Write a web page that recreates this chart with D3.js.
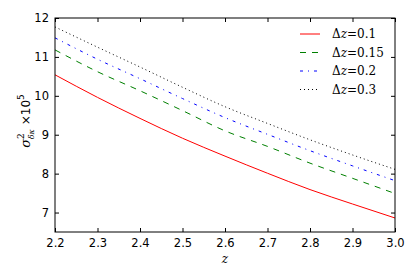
<!DOCTYPE html>
<html>
<head>
<meta charset="utf-8">
<script src="https://cdn.jsdelivr.net/npm/d3@7"></script>
<style>
  body { margin: 0; background: #fff; }
  svg text { fill: #000; }
</style>
</head>
<body>
<div id="chart"></div>
<script>
//set svg dimensions
var svgWidth = 417;
var svgHeight = 278;

//plot borders
var margin = { top: 18, right: 22, bottom: 46, left: 55 };
var width = svgWidth - margin.left - margin.right;
var height = svgHeight - margin.top - margin.bottom;

//data
var zValues = [2.2, 2.3, 2.4, 2.5, 2.6, 2.7, 2.8, 2.9, 3.0];
var sigma01 = [10.54, 9.96, 9.42, 8.91, 8.45, 8.01, 7.59, 7.22, 6.86];
var sigma015 = [11.18, 10.62, 10.13, 9.62, 9.10, 8.70, 8.27, 7.88, 7.49];
var sigma02 = [11.49, 10.94, 10.44, 9.93, 9.44, 9.01, 8.59, 8.20, 7.82];
var sigma03 = [11.77, 11.25, 10.74, 10.22, 9.72, 9.29, 8.87, 8.48, 8.11];
var seriesLabels = ["0.1", "0.15", "0.2", "0.3"];
var xTicks = [2.2, 2.3, 2.4, 2.5, 2.6, 2.7, 2.8, 2.9, 3.0];
var yTicks = [7, 8, 9, 10, 11, 12];

var series = [
    { label: seriesLabels[0], values: sigma01, color: "#ff0000", dash: null },
    { label: seriesLabels[1], values: sigma015, color: "#008000", dash: "6,6" },
    { label: seriesLabels[2], values: sigma02, color: "#0000ff", dash: "3,5,1,5" },
    { label: seriesLabels[3], values: sigma03, color: "#000000", dash: "1,3" }
];

var svg = d3.select("#chart").append("svg")
    .attr("width", svgWidth)
    .attr("height", svgHeight);

var chartGroup = svg.append("g")
    .attr("transform", `translate(${margin.left}, ${margin.top})`);

//scales
var xScale = d3.scaleLinear().domain([2.2, 3.0]).range([0, width]);
var yScale = d3.scaleLinear().domain([6.5, 12]).range([height, 0]);

//lines
var line = d3.line()
    .x((d, i) => xScale(zValues[i]))
    .y(d => yScale(d))
    .curve(d3.curveMonotoneX);

series.forEach(function(s) {
    chartGroup.append("path")
        .attr("d", line(s.values))
        .attr("fill", "none")
        .attr("stroke", s.color)
        .attr("stroke-width", 1)
        .attr("stroke-dasharray", s.dash);
});

//axes with inward ticks on all sides
function styleAxis(g) {
    g.select(".domain").remove();
    g.selectAll("text").attr("font-family", "DejaVu Sans").attr("font-size", 11.5).attr("fill", "#000");
    g.selectAll("line").attr("stroke", "#000");
}

chartGroup.append("g")
    .attr("transform", `translate(0, ${height})`)
    .call(d3.axisBottom(xScale).tickValues(xTicks).tickFormat(d3.format(".1f")).tickSizeInner(-4).tickPadding(7))
    .call(styleAxis);

chartGroup.append("g")
    .call(d3.axisTop(xScale).tickValues(xTicks).tickSizeInner(-4).tickFormat(""))
    .call(styleAxis);

chartGroup.append("g")
    .call(d3.axisLeft(yScale).tickValues(yTicks).tickFormat(d3.format("d")).tickSizeInner(-4).tickPadding(6))
    .call(styleAxis);

chartGroup.append("g")
    .attr("transform", `translate(${width}, 0)`)
    .call(d3.axisRight(yScale).tickValues(yTicks).tickSizeInner(-4).tickFormat(""))
    .call(styleAxis);

//frame
chartGroup.append("rect")
    .attr("width", width)
    .attr("height", height)
    .attr("fill", "none")
    .attr("stroke", "#000")
    .attr("stroke-width", 1);

//x label
chartGroup.append("text")
    .attr("x", width / 2)
    .attr("y", height + 31)
    .attr("text-anchor", "middle")
    .attr("font-family", "DejaVu Serif")
    .attr("font-style", "italic")
    .attr("font-size", 12)
    .text("z");

//y label
var yLabel = svg.append("text")
    .attr("transform", `translate(30, ${margin.top + height / 2 - 4}) rotate(-90)`)
    .attr("text-anchor", "middle")
    .attr("font-family", "DejaVu Serif")
    .attr("font-size", 13);
yLabel.append("tspan").attr("font-style", "italic").text("σ");
yLabel.append("tspan").attr("dy", -6).attr("dx", 0).attr("font-size", 9).text("2");
yLabel.append("tspan").attr("dy", 10).attr("dx", -6).attr("font-size", 8).attr("font-style", "italic").text("δκ");
yLabel.append("tspan").attr("dy", -4).attr("dx", 4).attr("font-family", "DejaVu Sans").attr("font-size", 12).text("×10");
yLabel.append("tspan").attr("dy", -6).attr("font-family", "DejaVu Sans").attr("font-size", 9).text("5");

//legend
var legend = chartGroup.append("g")
    .attr("transform", `translate(${width - 95}, 16)`);

series.forEach(function(s, i) {
    var row = legend.append("g").attr("transform", `translate(0, ${i * 18.5})`);
    row.append("line")
        .attr("x1", 0).attr("x2", 20)
        .attr("y1", 0).attr("y2", 0)
        .attr("stroke", s.color)
        .attr("stroke-width", 1)
        .attr("stroke-dasharray", s.dash);
    var t = row.append("text")
        .attr("x", 32)
        .attr("y", 4)
        .attr("font-family", "DejaVu Serif")
        .attr("font-size", 12);
    t.append("tspan").text("Δ");
    t.append("tspan").attr("font-style", "italic").text("z");
    t.append("tspan").text("=" + s.label);
});
</script>
</body>
</html>
